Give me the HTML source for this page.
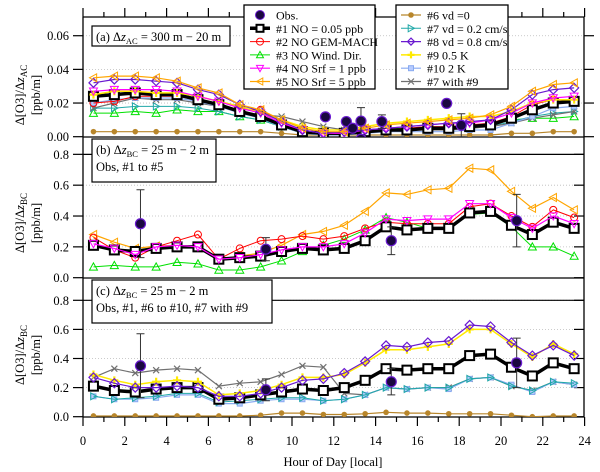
<!DOCTYPE html>
<html><head><meta charset="utf-8"><style>
html,body{margin:0;padding:0;background:#fff;}
svg{display:block;font-family:"Liberation Serif",serif;}
</style></head><body>
<svg id="chart" width="600" height="472" viewBox="0 0 600 472" xmlns="http://www.w3.org/2000/svg">
<defs>
<clipPath id="clipA"><rect x="83" y="17" width="501" height="120"/></clipPath>
<clipPath id="clipB"><rect x="83" y="137" width="501" height="141"/></clipPath>
<clipPath id="clipC"><rect x="83" y="278" width="501" height="139"/></clipPath>
</defs>
<g id="grid"></g>
<g id="axes"></g>
<g id="series"></g>
<g id="annot"></g>
</svg>
<script>
const hours = [0.5,1.5,2.5,3.5,4.5,5.5,6.5,7.5,8.5,9.5,10.5,11.5,12.5,13.5,14.5,15.5,16.5,17.5,18.5,19.5,20.5,21.5,22.5,23.5];
// Panel (a)
const a_s5 = [0.035,0.036,0.036,0.035,0.033,0.029,0.026,0.019,0.016,0.010,0.005,0.003,0.003,0.005,0.007,0.008,0.009,0.010,0.011,0.013,0.018,0.027,0.031,0.032];
const a_s8 = [0.032,0.034,0.034,0.033,0.032,0.028,0.025,0.019,0.015,0.009,0.004,0.002,0.003,0.004,0.005,0.006,0.007,0.008,0.009,0.010,0.016,0.025,0.028,0.029];
const a_s4 = [0.027,0.028,0.028,0.028,0.027,0.024,0.021,0.017,0.014,0.008,0.004,0.002,0.002,0.004,0.005,0.006,0.007,0.008,0.008,0.010,0.014,0.020,0.023,0.024];
const a_s9 = [0.025,0.027,0.027,0.026,0.026,0.024,0.021,0.018,0.014,0.010,0.006,0.004,0.004,0.006,0.008,0.009,0.010,0.011,0.012,0.012,0.015,0.020,0.022,0.022];
const a_s1 = [0.024,0.025,0.026,0.025,0.025,0.022,0.019,0.015,0.012,0.007,0.003,0.002,0.002,0.003,0.004,0.004,0.005,0.005,0.006,0.007,0.011,0.016,0.020,0.021];
const a_s2 = [0.020,0.021,0.024,0.024,0.024,0.022,0.019,0.016,0.016,0.009,0.003,0.002,0.002,0.003,0.004,0.005,0.006,0.006,0.007,0.008,0.012,0.019,0.022,0.021];
const a_s10 = [0.020,0.022,0.023,0.023,0.023,0.021,0.018,0.014,0.011,0.006,0.002,0.001,0.001,0.002,0.003,0.003,0.003,0.003,0.004,0.004,0.008,0.012,0.017,0.018];
const a_s79 = [0.017,0.020,0.023,0.022,0.022,0.020,0.018,0.015,0.013,0.012,0.009,0.006,0.004,0.004,0.004,0.004,0.004,0.004,0.005,0.006,0.008,0.011,0.013,0.015];
const a_s7 = [0.017,0.017,0.018,0.018,0.018,0.017,0.015,0.012,0.010,0.006,0.002,0.001,0.002,0.003,0.004,0.004,0.004,0.005,0.005,0.006,0.009,0.012,0.014,0.015];
const a_s3 = [0.014,0.014,0.015,0.014,0.016,0.015,0.015,0.012,0.010,0.006,0.002,0.001,0.002,0.004,0.005,0.005,0.005,0.006,0.006,0.007,0.010,0.011,0.011,0.012];
const a_s6 = [0.003,0.003,0.003,0.003,0.003,0.003,0.003,0.003,0.003,0.002,0.001,0.001,0.001,0.001,0.001,0.001,0.001,0.001,0.001,0.001,0.002,0.002,0.003,0.003];
const a_obsHour = [11.6,12.6,12.9,13.3,13.3,14.3,17.4,18.1];
const a_obsVal = [0.0118,0.009,0.005,0.0093,-0.0015,0.009,0.0198,0.0068];
const a_obsErr = [0.0015,0.002,0.001,0.008,0.001,0.004,0.0015,0.0068];
// Panel (b)
const b_s5 = [0.28,0.23,0.19,0.205,0.21,0.195,0.12,0.14,0.16,0.21,0.28,0.30,0.34,0.43,0.55,0.54,0.57,0.58,0.71,0.70,0.56,0.45,0.52,0.44];
const b_s2 = [0.26,0.18,0.13,0.20,0.24,0.28,0.12,0.19,0.24,0.25,0.27,0.25,0.27,0.32,0.36,0.35,0.35,0.35,0.46,0.48,0.40,0.33,0.44,0.39];
const b_s4 = [0.22,0.19,0.15,0.20,0.21,0.20,0.12,0.13,0.15,0.18,0.20,0.20,0.22,0.29,0.38,0.37,0.38,0.38,0.48,0.48,0.39,0.32,0.40,0.35];
const b_s3 = [0.07,0.08,0.07,0.07,0.10,0.09,0.05,0.05,0.07,0.11,0.17,0.21,0.25,0.31,0.39,0.36,0.32,0.32,0.41,0.42,0.33,0.20,0.20,0.14];
const b_s1 = [0.21,0.18,0.17,0.19,0.20,0.20,0.12,0.13,0.14,0.17,0.19,0.18,0.19,0.24,0.33,0.31,0.32,0.32,0.42,0.43,0.34,0.28,0.36,0.32];
const bc_obsHour = [2.75,8.75,14.75,20.75];
const bc_obsVal = [0.35,0.185,0.24,0.37];
const bc_obsErr = [0.22,0.075,0.09,0.17];
// Panel (c)
const c_s8 = [0.27,0.23,0.20,0.20,0.21,0.20,0.14,0.14,0.16,0.20,0.25,0.26,0.30,0.38,0.49,0.48,0.51,0.52,0.63,0.62,0.51,0.42,0.49,0.42];
const c_s9 = [0.29,0.25,0.22,0.24,0.25,0.24,0.15,0.16,0.18,0.22,0.27,0.27,0.29,0.37,0.46,0.46,0.48,0.50,0.60,0.60,0.50,0.41,0.50,0.43];
const c_s79 = [0.27,0.33,0.30,0.32,0.33,0.32,0.21,0.23,0.24,0.29,0.35,0.34,0.16,0.15,0.20,0.19,0.20,0.20,0.26,0.27,0.21,0.18,0.24,0.22];
const c_s1 = [0.21,0.18,0.17,0.19,0.20,0.20,0.12,0.13,0.15,0.17,0.19,0.18,0.20,0.25,0.33,0.32,0.33,0.33,0.42,0.43,0.34,0.28,0.37,0.33];
const c_s7 = [0.14,0.12,0.13,0.14,0.16,0.16,0.10,0.11,0.12,0.13,0.13,0.11,0.12,0.15,0.20,0.19,0.20,0.20,0.26,0.27,0.21,0.18,0.24,0.23];
const c_s10 = [0.14,0.12,0.12,0.13,0.15,0.15,0.09,0.09,0.11,0.12,0.12,0.11,0.12,0.15,0.20,0.19,0.20,0.19,0.26,0.27,0.22,0.17,0.24,0.22];
const c_s6 = [0.005,0.005,0.005,0.005,0.005,0.005,0.005,0.005,0.01,0.025,0.025,0.015,0.015,0.02,0.03,0.025,0.025,0.02,0.02,0.02,0.01,0.0,0.005,0.005];
// ticks
const xTicks = [0,2,4,6,8,10,12,14,16,18,20,22,24];
const aTicks = [0.00,0.02,0.04,0.06];
const bTicks = [0.0,0.2,0.4,0.6,0.8];
const cTicks = [0.0,0.2,0.4,0.6,0.8];

const NS = "http://www.w3.org/2000/svg";
function el(tag, attrs, parent){const e=document.createElementNS(NS,tag);for(const k in attrs)e.setAttribute(k,attrs[k]);parent.appendChild(e);return e;}
const xS = h => 83 + h*20.9;
const yA = v => 136.7 - v*1683;
const yB = v => 277.7 - v*154.2;
const yC = v => 416.7 - v*145.5;

const grid = document.getElementById('grid');
const axes = document.getElementById('axes');
const series = document.getElementById('series');
const annot = document.getElementById('annot');

const styles = {
 s1:{c:'#000',m:'square',lw:3.5,ms:4.5,mf:'none',mw:2},
 s2:{c:'#ff0000',m:'circle',lw:1,ms:3.5,mf:'none',mw:1},
 s3:{c:'#00e000',m:'tri-up',lw:1,ms:4,mf:'none',mw:1},
 s4:{c:'#ff00ff',m:'tri-down',lw:1.2,ms:4,mf:'none',mw:1},
 s5:{c:'#ffa500',m:'tri-left',lw:1.2,ms:4,mf:'none',mw:1},
 s6:{c:'#b8862b',m:'circle',lw:1.2,ms:2.3,mf:'#b8862b',mw:1},
 s7:{c:'#20a8a8',m:'tri-right',lw:1,ms:3.5,mf:'none',mw:1},
 s8:{c:'#6a1ad0',m:'diamond',lw:1.2,ms:4.5,mf:'none',mw:1.2},
 s9:{c:'#ffea00',m:'star',lw:1.5,ms:4,mf:'#ffea00',mw:1.5},
 s10:{c:'#88aaf0',m:'sq-small',lw:1.2,ms:2.5,mf:'#b8ccff',mw:1},
 s79:{c:'#707070',m:'x',lw:1.2,ms:3,mf:'none',mw:1.2}
};

function marker(parent, x, y, st){
 const s=st.ms; const base={stroke:st.c,'stroke-width':st.mw,fill:st.mf};
 let e;
 if(st.m==='square') e=el('rect',Object.assign({x:x-s,y:y-s,width:2*s,height:2*s},base,{fill:'#fff'}),parent);
 else if(st.m==='sq-small') e=el('rect',Object.assign({x:x-s,y:y-s,width:2*s,height:2*s},base),parent);
 else if(st.m==='circle') e=el('circle',Object.assign({cx:x,cy:y,r:s},base),parent);
 else if(st.m==='tri-up') e=el('polygon',Object.assign({points:`${x},${y-s} ${x-s},${y+s*0.8} ${x+s},${y+s*0.8}`},base),parent);
 else if(st.m==='tri-down') e=el('polygon',Object.assign({points:`${x},${y+s} ${x-s},${y-s*0.8} ${x+s},${y-s*0.8}`},base),parent);
 else if(st.m==='tri-left') e=el('polygon',Object.assign({points:`${x-s},${y} ${x+s*0.8},${y-s} ${x+s*0.8},${y+s}`},base),parent);
 else if(st.m==='tri-right') e=el('polygon',Object.assign({points:`${x+s},${y} ${x-s*0.8},${y-s} ${x-s*0.8},${y+s}`},base),parent);
 else if(st.m==='diamond') e=el('polygon',Object.assign({points:`${x},${y-s} ${x+s},${y} ${x},${y+s} ${x-s},${y}`},base),parent);
 else if(st.m==='star') e=el('path',{d:`M${x-s},${y}L${x+s},${y}M${x},${y-s}L${x},${y+s}`,stroke:st.c,'stroke-width':2.2},parent);
 else if(st.m==='x') e=el('path',{d:`M${x-s},${y-s}L${x+s},${y+s}M${x-s},${y+s}L${x+s},${y-s}`,stroke:st.c,'stroke-width':st.mw},parent);
 return e;
}

function drawSeries(vals, key, yf, clip, name){
 const st=styles[key];
 const g=el('g',{'clip-path':`url(#${clip})`},series);
 
 
 const pts=vals.map((v,i)=>`${xS(hours[i]).toFixed(1)},${yf(v).toFixed(1)}`).join(' ');
 const line=el('polyline',{points:pts,fill:'none',stroke:st.c,'stroke-width':st.lw,'stroke-linejoin':'round'},g);
 
 
 vals.forEach((v,i)=>{
  const m=marker(g,xS(hours[i]),yf(v),st);
  
  
 });
}

function drawObs(hs, vs, es, yf, clip, name){
 const g=el('g',{'clip-path':`url(#${clip})`},series);
 
 
 hs.forEach((h,i)=>{
  const x=xS(h), y=yf(vs[i]), y1=yf(vs[i]+es[i]), y2=yf(vs[i]-es[i]);
  const eb=el('path',{d:`M${x},${y1}L${x},${y2}M${x-4},${y1}L${x+4},${y1}M${x-4},${y2}L${x+4},${y2}`,stroke:'#333','stroke-width':1},g);
  
  
  const c=el('circle',{cx:x,cy:y,r:5,fill:'#1a0840',stroke:'#6a1ad0','stroke-width':1.2},g);
  
  
 });
}

function panelGrid(ticks, yf, fmt, name, topLine, rightOut){
 ticks.forEach(t=>{
  const y=yf(t);
  if(t>0){
   const gl=el('line',{x1:83,x2:584,y1:y,y2:y,stroke:'#bbb','stroke-width':0.8,'stroke-dasharray':'1,2'},grid);
   
   
  }
  const tk=el('line',{x1:73,x2:83,y1:y,y2:y,stroke:'#000','stroke-width':1.2},axes);
  
  
  const rt=el('line',{x1:rightOut?584:574,x2:rightOut?594:584,y1:y,y2:y,stroke:'#000','stroke-width':1.2},axes);
  
  
  const tx=el('text',{x:69,y:y+4.5,'text-anchor':'end','font-size':12.5},axes);
  tx.textContent=fmt(t);
  
  
 });
}
panelGrid(aTicks,yA,t=>t.toFixed(2),'y-axis-a',false,true);
panelGrid(bTicks,yB,t=>t.toFixed(1),'y-axis-b',false,false);
panelGrid(cTicks,yC,t=>t.toFixed(1),'y-axis-c',false,false);
[[yB(0.8)],[yC(0.8)]].forEach(([y])=>{
 const l=el('line',{x1:83,x2:584,y1:y,y2:y,stroke:'#000','stroke-width':1.2},axes);
 
 
});
[[83,17,83,417],[584,17,584,417],[83,17,584,17],[83,137,584,137],[83,278,584,278],[83,417,584,417]].forEach(p=>{
 const l=el('line',{x1:p[0],y1:p[1],x2:p[2],y2:p[3],stroke:'#000','stroke-width':1.3},axes);
 
 
});
for(let h=0;h<=24;h++){
 const x=xS(h), major=h%2===0;
 const t1=el('line',{x1:x,x2:x,y1:417,y2:417+(major?9:5),stroke:'#000','stroke-width':1.2},axes);
 
 
 const t2=el('line',{x1:x,x2:x,y1:17,y2:17-(major?9:5),stroke:'#000','stroke-width':1.2},axes);
 
 
}
xTicks.forEach(h=>{
 const tx=el('text',{x:xS(h),y:445,'text-anchor':'middle','font-size':12.5},axes);
 tx.textContent=String(h);
 
 
});
const xt=el('text',{x:333,y:466,'text-anchor':'middle','font-size':12.5},axes);
xt.textContent='Hour of Day [local]';



drawSeries(a_s6,'s6',yA,'clipA','series-a-6');
drawSeries(a_s3,'s3',yA,'clipA','series-a-3');
drawSeries(a_s7,'s7',yA,'clipA','series-a-7');
drawSeries(a_s79,'s79',yA,'clipA','series-a-7with9');
drawSeries(a_s10,'s10',yA,'clipA','series-a-10');
drawSeries(a_s2,'s2',yA,'clipA','series-a-2');
drawSeries(a_s1,'s1',yA,'clipA','series-a-1');
drawSeries(a_s9,'s9',yA,'clipA','series-a-9');
drawSeries(a_s4,'s4',yA,'clipA','series-a-4');
drawSeries(a_s8,'s8',yA,'clipA','series-a-8');
drawSeries(a_s5,'s5',yA,'clipA','series-a-5');
drawObs(a_obsHour,a_obsVal,a_obsErr,yA,'clipA','obs-a');

drawSeries(b_s5,'s5',yB,'clipB','series-b-5');
drawSeries(b_s3,'s3',yB,'clipB','series-b-3');
drawSeries(b_s2,'s2',yB,'clipB','series-b-2');
drawSeries(b_s1,'s1',yB,'clipB','series-b-1');
drawSeries(b_s4,'s4',yB,'clipB','series-b-4');
drawObs(bc_obsHour,bc_obsVal,bc_obsErr,yB,'clipB','obs-b');

drawSeries(c_s6,'s6',yC,'clipC','series-c-6');
drawSeries(c_s79,'s79',yC,'clipC','series-c-7with9');
drawSeries(c_s10,'s10',yC,'clipC','series-c-10');
drawSeries(c_s7,'s7',yC,'clipC','series-c-7');
drawSeries(c_s1,'s1',yC,'clipC','series-c-1');
drawSeries(c_s9,'s9',yC,'clipC','series-c-9');
drawSeries(c_s8,'s8',yC,'clipC','series-c-8');
drawObs(bc_obsHour,bc_obsVal,bc_obsErr,yC,'clipC','obs-c');

function yTitle(cy, sub, name){
 const g=el('g',{transform:`translate(0,${cy}) rotate(-90)`},annot);
 
 
 const t=el('text',{x:0,y:24,'text-anchor':'middle','font-size':12.5},g);
 t.innerHTML=`Δ[O3]/Δ<tspan font-style="italic">z</tspan><tspan font-size="9" dy="3">${sub}</tspan>`;
 const t2=el('text',{x:0,y:40,'text-anchor':'middle','font-size':12.5},g);
 t2.textContent='[ppb/m]';
}
yTitle(95,'AC','y-axis-title-a');
yTitle(223,'BC','y-axis-title-b');
yTitle(355,'BC','y-axis-title-c');

function labelBox(x,y,w,h,lines,name){
 const g=el('g',{},annot);
 
 
 el('rect',{x:x,y:y,width:w,height:h,fill:'#fff',stroke:'#000','stroke-width':1.2},g);
 lines.forEach((ln,i)=>{const t=el('text',{x:x+4,y:y+15+i*17,'font-size':12.5},g);t.innerHTML=ln;});
}
labelBox(92,26,138,20,['(a) Δ<tspan font-style="italic">z</tspan><tspan font-size="8.5" dy="3">AC</tspan><tspan dy="-3"> = 300 m − 20 m</tspan>'],'panel-a-label');
labelBox(92,139,124,43,['(b) Δ<tspan font-style="italic">z</tspan><tspan font-size="8.5" dy="3">BC</tspan><tspan dy="-3"> = 25 m − 2 m</tspan>','Obs, #1 to #5'],'panel-b-label');
labelBox(92,280,180,43,['(c) Δ<tspan font-style="italic">z</tspan><tspan font-size="8.5" dy="3">BC</tspan><tspan dy="-3"> = 25 m − 2 m</tspan>','Obs, #1, #6 to #10, #7 with #9'],'panel-c-label');

function legend(x,y,w,h,items,mx,tx,name){
 const g=el('g',{},annot);
 
 
 el('rect',{x:x,y:y,width:w,height:h,fill:'#fff',stroke:'#000','stroke-width':1.3},g);
 items.forEach((it,i)=>{
  const yy=15+i*13.3;
  const eg=el('g',{},g);
  
  
  if(it.k==='obs'){
   el('circle',{cx:mx,cy:yy,r:4.5,fill:'#1a0840',stroke:'#6a1ad0','stroke-width':1},eg);
  } else {
   const st=styles[it.k];
   el('line',{x1:mx-10,x2:mx+10,y1:yy,y2:yy,stroke:st.c,'stroke-width':st.lw},eg);
   marker(eg,mx,yy,Object.assign({},st,{ms:Math.min(st.ms,3.5)}));
  }
  const t=el('text',{x:tx,y:yy+4.5,'font-size':12},eg);
  t.textContent=it.t;
 });
}
legend(244,5,131,84,[{k:'obs',t:'Obs.'},{k:'s1',t:'#1 NO = 0.05 ppb'},{k:'s2',t:'#2 NO GEM-MACH'},{k:'s3',t:'#3 NO Wind. Dir.'},{k:'s4',t:'#4 NO Srf = 1 ppb'},{k:'s5',t:'#5 NO Srf = 5 ppb'}],260,276,'legend-left');
legend(396,5,112,84,[{k:'s6',t:'#6 vd =0'},{k:'s7',t:'#7 vd = 0.2 cm/s'},{k:'s8',t:'#8 vd = 0.8 cm/s'},{k:'s9',t:'#9 0.5 K'},{k:'s10',t:'#10 2 K'},{k:'s79',t:'#7 with #9'}],411,427,'legend-right');
</script>
</body></html>
